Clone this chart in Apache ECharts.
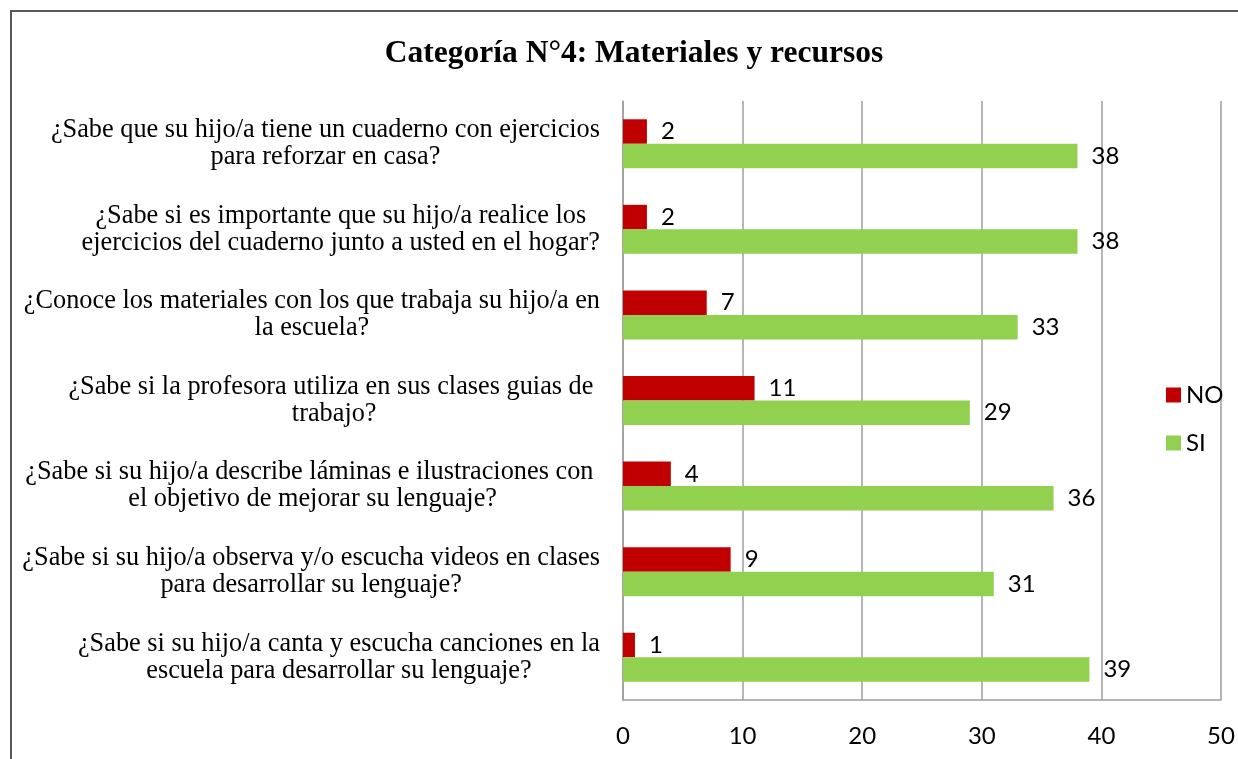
<!DOCTYPE html>
<html>
<head>
<meta charset="utf-8">
<script src="https://cdn.jsdelivr.net/npm/echarts@6/dist/echarts.min.js"></script>
<style>
  html, body { margin: 0; padding: 0; background: #fff; }
  #chart { width: 1238px; height: 759px; }
</style>
</head>
<body>
<div id="chart"></div>
<script>
const titleText = "Categoría N°4: Materiales y recursos";
const categories = [
  "¿Sabe que su hijo/a tiene un cuaderno con ejercicios\npara reforzar en casa?",
  "¿Sabe si es importante que su hijo/a realice los\nejercicios del cuaderno junto a usted en el hogar?",
  "¿Conoce los materiales con los que trabaja su hijo/a en\nla escuela?",
  "¿Sabe si la profesora utiliza en sus clases guias de \ntrabajo?",
  "¿Sabe si su hijo/a describe láminas e ilustraciones con \nel objetivo de mejorar su lenguaje?",
  "¿Sabe si su hijo/a observa y/o escucha videos en clases\npara desarrollar su lenguaje?",
  "¿Sabe si su hijo/a canta y escucha canciones en la\nescuela para desarrollar su lenguaje?"
];
const seriesNames = ["NO", "SI"];
const noValues = [2, 2, 7, 11, 4, 9, 1];
const siValues = [38, 38, 33, 29, 36, 31, 39];
const xTicks = { min: 0, max: 50, interval: 10 };

const chart = echarts.init(document.getElementById('chart'), null, { renderer: 'canvas' });
const sans = 'Lato, "Noto Sans", sans-serif';
const serif = '"Liberation Serif", "Times New Roman", serif';
const labelStyle = {
  show: true, position: 'right', distance: 14,
  color: '#000', fontFamily: sans, fontSize: 24
};
chart.setOption({
  animation: false,
  backgroundColor: '#fff',
  graphic: [{
    type: 'rect', shape: { x: 11, y: 11, width: 1400, height: 900 },
    style: { fill: 'none', stroke: '#595959', lineWidth: 2 }, z: 100, silent: true
  }],
  title: {
    text: titleText, left: 629, top: 33, textAlign: 'center',
    textStyle: { fontFamily: serif, fontWeight: 'bold', fontSize: 31.5, color: '#000' }
  },
  legend: {
    orient: 'vertical', left: 1166, top: 383, padding: 0,
    itemWidth: 15, itemHeight: 15, itemGap: 24, icon: 'rect',
    textStyle: { fontFamily: sans, fontSize: 24, color: '#000' },
    data: seriesNames
  },
  grid: { left: 623, right: 17, top: 101, bottom: 59, containLabel: false },
  xAxis: {
    type: 'value', min: xTicks.min, max: xTicks.max, interval: xTicks.interval,
    axisLine: { show: true, lineStyle: { color: '#9e9e9e', width: 1.5 } },
    axisTick: { show: false },
    splitLine: { show: true, lineStyle: { color: '#9e9e9e', width: 1.5 } },
    axisLabel: { margin: 24, color: '#000', fontFamily: sans, fontSize: 24 }
  },
  yAxis: {
    type: 'category', inverse: true, data: categories,
    axisLine: { show: true, lineStyle: { color: '#9e9e9e', width: 1.5 } },
    axisTick: { show: false },
    splitLine: { show: false },
    axisLabel: {
      margin: 23, align: 'right',
      formatter: function (v) {
        return v.split('\n').map(function (l) { return '{c|' + l + '}'; }).join('\n');
      },
      rich: { c: { align: 'center', fontFamily: serif, fontSize: 26.3, lineHeight: 27, color: '#000' } }
    }
  },
  series: [
    { name: seriesNames[0], type: 'bar', data: noValues, barWidth: 24.5, barGap: '0%',
      itemStyle: { color: '#C00000' }, label: labelStyle },
    { name: seriesNames[1], type: 'bar', data: siValues, barWidth: 24.5, barGap: '0%',
      itemStyle: { color: '#92D050' }, label: labelStyle }
  ]
});
</script>
</body>
</html>
